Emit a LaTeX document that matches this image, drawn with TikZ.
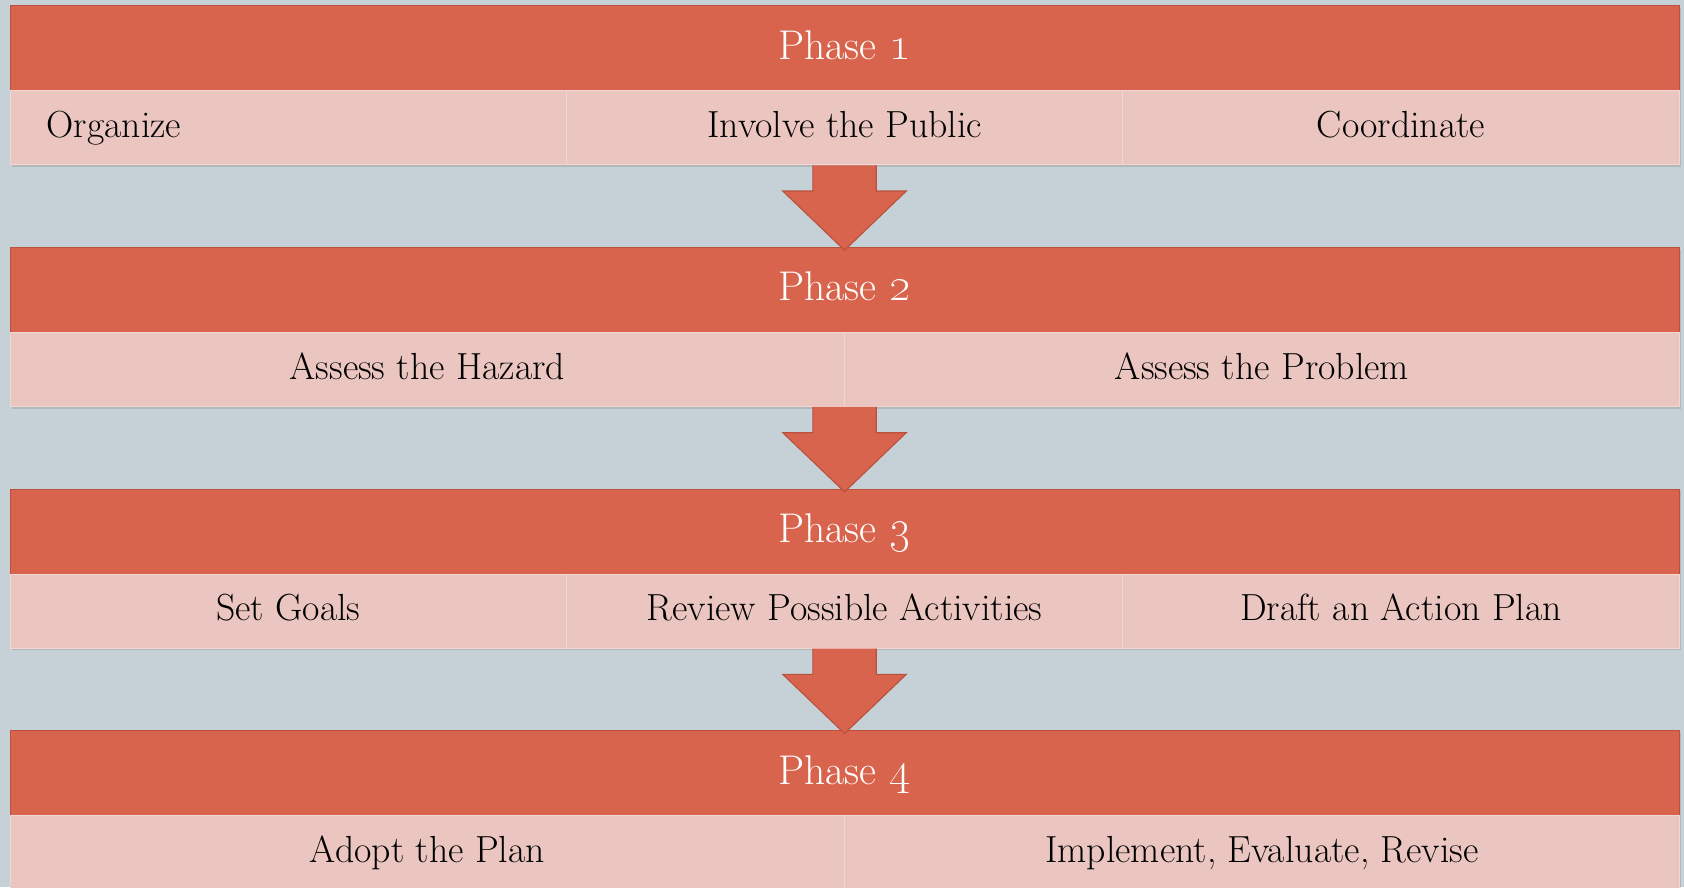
\documentclass[tikz,border=0pt]{standalone}
\usepackage{xcolor}
\usepackage{tikz}
\usetikzlibrary{calc,shadows}

\definecolor{bgblue}{HTML}{C5D1D7}
\definecolor{phasered}{HTML}{D9644D}
\definecolor{phaseedge}{HTML}{BA513C}
\definecolor{cellpink}{HTML}{EBC6C0}
\definecolor{celledge}{HTML}{F2D6D1}

\newcommand{\phnum}[1]{{\fontsize{25}{28}\selectfont\oldstylenums{#1}}}

\begin{document}
\begin{tikzpicture}[
  header/.style={rectangle, fill=phasered, draw=phaseedge, line width=0.4pt,
    minimum width=31.08cm, minimum height=1.58cm, anchor=north west,
    text=white, inner sep=0pt, font=\fontsize{22}{26}\selectfont,
    text height=3.3ex, text depth=0.6ex,
    drop shadow={shadow xshift=0.03cm, shadow yshift=-0.04cm, opacity=0.3}},
  cell/.style={rectangle, fill=cellpink, draw=celledge, line width=0.5pt,
    minimum height=1.38cm, anchor=north west, text=black, inner sep=0pt,
    font=\fontsize{20}{24}\selectfont, text height=2.6ex, text depth=0.2ex,
    drop shadow={shadow xshift=0.03cm, shadow yshift=-0.04cm, opacity=0.3}},
  third/.style={cell, minimum width=10.36cm},
  half/.style={cell, minimum width=15.54cm},
  flowarrow/.style={fill=phasered, draw=phaseedge, line width=0.6pt, line join=miter}
]
% Background
\useasboundingbox (0,0) rectangle (31.36,-16.52);
\fill[bgblue] (0,0) rectangle (31.36,-16.52);

% Phase 1
\node[header] (ph1) at (0.18,-0.1) {Phase \phnum{1}};
\node[third, text width=9cm, inner xsep=0.68cm, align=left] (ph1a) at (0.18,-1.68) {Organize};
\node[third] (ph1b) at (10.54,-1.68) {Involve the Public};
\node[third] (ph1c) at (20.9,-1.68) {Coordinate};

% Phase 2
\node[header] (ph2) at (0.18,-4.6) {Phase \phnum{2}};
\node[half] (ph2a) at (0.18,-6.18) {Assess the Hazard};
\node[half] (ph2b) at (15.72,-6.18) {Assess the Problem};

% Phase 3
\node[header] (ph3) at (0.18,-9.1) {Phase \phnum{3}};
\node[third] (ph3a) at (0.18,-10.68) {Set Goals};
\node[third] (ph3b) at (10.54,-10.68) {Review Possible Activities};
\node[third] (ph3c) at (20.9,-10.68) {Draft an Action Plan};

% Phase 4
\node[header] (ph4) at (0.18,-13.6) {Phase \phnum{4}};
\node[half] (ph4a) at (0.18,-15.18) {Adopt the Plan};
\node[half] (ph4b) at (15.72,-15.18) {Implement, Evaluate, Revise};

% Arrows
\foreach \a/\b/\s in {ph1/ph2/ph1a, ph2/ph3/ph2a, ph3/ph4/ph3a}{
  \draw[flowarrow] ($(\a.south |- \s.south)+(-0.59,0)$) -- ++(0,-0.48)
    -- ++(-0.56,0) -- ($(\b.north)+(0,-0.06)$) -- ($(\a.south |- \s.south)+(1.15,-0.48)$)
    -- ++(-0.56,0) -- ($(\a.south |- \s.south)+(0.59,0)$);
}
\end{tikzpicture}
\end{document}
